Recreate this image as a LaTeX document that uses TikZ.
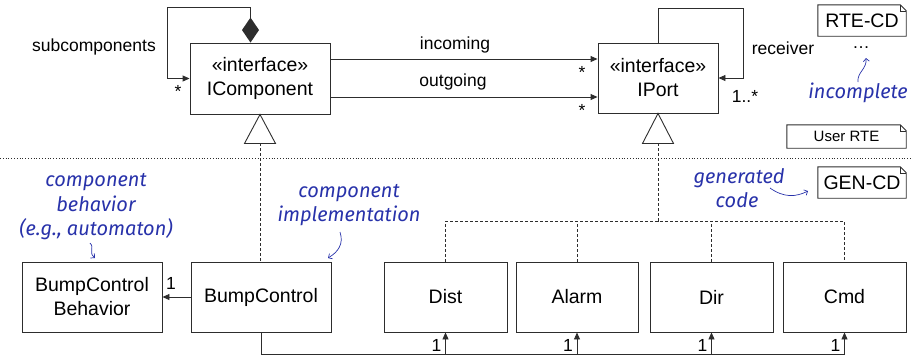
\documentclass[tikz,border=0pt]{standalone}
\usepackage{fontspec}
\setmainfont{Liberation Sans}
\newfontfamily\hand{Fira Sans}
\usetikzlibrary{arrows.meta,calc}
\definecolor{hblue}{RGB}{40,50,170}
\definecolor{lc}{RGB}{45,45,45}
\begin{document}
\begin{tikzpicture}[x=1pt,y=-1pt,
  box/.style={draw=lc, line width=0.9pt, inner sep=0pt, align=center, font=\fontsize{19.5}{24}\selectfont},
  lbl/.style={inner sep=0pt, font=\fontsize{17.5}{21}\selectfont},
  notebox/.style={inner sep=0pt, font=\fontsize{19.5}{24}\selectfont},
  notel/.style={draw=lc, line width=0.9pt},
  hnd/.style={inner sep=0pt, align=center, text=hblue, font=\hand\itshape\fontsize{20}{24.5}\selectfont},
  harr/.style={draw=hblue, line width=0.7pt, -{Straight Barb[length=3pt,width=6pt]}},
  arr/.style={draw=lc, line width=0.9pt, -{Triangle[length=7pt,width=6pt]}},
  plain/.style={draw=lc, line width=0.9pt},
  dsh/.style={draw=lc, line width=0.9pt, dash pattern=on 3pt off 2pt},
]
\useasboundingbox (0,0) rectangle (913,357);

% separator
\draw[lc, line width=0.8pt, dotted] (0,158) -- (913,158);

% classes
\node[box, minimum width=140pt, minimum height=71pt] (icomp) at (260,78.5) {«interface»\\IComponent};
\node[box, minimum width=120pt, minimum height=70pt] (iport) at (658,78) {«interface»\\IPort};
\node[box, minimum width=140pt, minimum height=70pt] (beh) at (92,297) {BumpControl\\Behavior};
\node[box, minimum width=140pt, minimum height=70pt] (bump) at (261,297) {BumpControl};
\node[box, minimum width=123pt, minimum height=70pt] (dist) at (445.5,297) {Dist};
\node[box, minimum width=122pt, minimum height=70pt] (alarm) at (577,297) {Alarm};
\node[box, minimum width=123pt, minimum height=70pt] (dir) at (711.5,297) {Dir};
\node[box, minimum width=123pt, minimum height=70pt] (cmd) at (844.5,297) {Cmd};

% composition self loop of IComponent
\coordinate (dm) at ($(icomp.north)+(-9.5,0)$);
\fill[lc] (dm) -- ++(-8.5,-12.5) -- ++(8.5,-12.5) -- ++(8.5,12.5) -- cycle;
\coordinate (dmtop) at ($(dm)+(0,-25)$);
\coordinate (lpc) at (167,7);
\draw[arr] (dmtop) |- (lpc) |- (icomp.west);
\node[lbl] (lsub) at (94,47) {subcomponents};
\node[lbl] (lsubm) at (178,91) {*};

% incoming / outgoing
\draw[arr] (icomp.east |- 0,59) -- (iport.west |- 0,59);
\draw[arr] (icomp.east |- 0,97) -- (iport.west |- 0,97);
\node[lbl] (linc) at (455,45) {incoming};
\node[lbl] (lincm) at (582,72) {*};
\node[lbl] (lout) at (453,82) {outgoing};
\node[lbl] (loutm) at (582,110) {*};

% receiver loop
\coordinate (rpc) at (743,8);
\draw[arr] (iport.north) |- (rpc) |- (iport.east);
\node[lbl] (lrec) at (783,48) {receiver};
\node[lbl] (lrecm) at (745,96) {1..*};

% generalization IComponent
\draw[plain] (icomp.south) -- ++(-15.5,29) -- ++(31,0) -- cycle;
\coordinate (tc) at ($(icomp.south)+(0,29)$);
\draw[dsh] (tc) -- (tc |- bump.north);

% generalization IPort
\draw[plain] (iport.south) -- ++(-15.5,30) -- ++(31,0) -- cycle;
\coordinate (tp) at ($(iport.south)+(0,30)$);
\coordinate (bus) at ($(tp)+(0,78)$);
\draw[dsh] (tp) -- (bus);
\draw[dsh] (dist.north) |- (bus) -| (cmd.north);
\draw[dsh] (alarm.north) -- (alarm.north |- bus);
\draw[dsh] (dir.north) -- (dir.north |- bus);

% BumpControl -> Behavior
\draw[arr] (bump.west) -- (beh.east);
\node[lbl] (lbeh) at (171,283) {1};

% bottom bus
\coordinate (bb) at (0,354);
\draw[plain] (bump.south) |- (cmd.south |- bb);
\foreach \n in {dist,alarm,dir,cmd}{
  \draw[arr] (\n.south |- bb) -- (\n.south);
  \node[lbl, anchor=east] (l\n) at ($(\n.south)+(-4,13)$) {1};
}

% notes
\node[notebox, minimum width=88pt, minimum height=31pt] (nrte) at (862,20.5) {RTE-CD};
\node[notebox, minimum width=88pt, minimum height=31pt] (ngen) at (862,182.5) {GEN-CD};
\node[notebox, font=\fontsize{15}{18}\selectfont, minimum width=119pt, minimum height=23pt] (nuser) at (846.5,136.5) {User RTE};
\foreach \n in {nrte,ngen,nuser}{
  \draw[notel] (\n.south west) -- (\n.north west) -- ($(\n.north east)+(-6,0)$) -- ($(\n.north east)+(0,6)$) -- (\n.south east) -- cycle;
  \draw[notel, line width=0.6pt] ($(\n.north east)+(-6,0)$) -- ($(\n.north east)+(-6,6)$) -- ($(\n.north east)+(0,6)$);
}
\node[lbl] (dots) at (861,48) {…};

% handwritten annotations
\node[hnd] (hinc) at (858,93) {incomplete};
\coordinate (hinca) at (858,82);
\coordinate (hincb) at (866,58);
\draw[harr] (hinca) .. controls (857,72) and (867,69) .. (hincb);

\node[hnd] (hbeh) at (96,207) {component\\behavior\\(e.g., automaton)};
\coordinate (hbeha) at (90,243);
\coordinate (hbehb) at (95,258);
\draw[harr] (hbeha) .. controls (95,248) and (88,252) .. (hbehb);

\node[hnd] (himp) at (349,205) {component\\implementation};
\coordinate (himpa) at (340,232);
\coordinate (himpb) at (328,258);
\draw[harr] (himpa) .. controls (344,244) and (338,252) .. (himpb);

\node[hnd] (hgen) at (739,188) {generated\\\hspace*{-4pt}code};
\coordinate (hgena) at (770,188);
\coordinate (hgenb) at (808,191);
\draw[harr] (hgena) .. controls (784,198) and (796,197) .. (hgenb);
\end{tikzpicture}
\end{document}
